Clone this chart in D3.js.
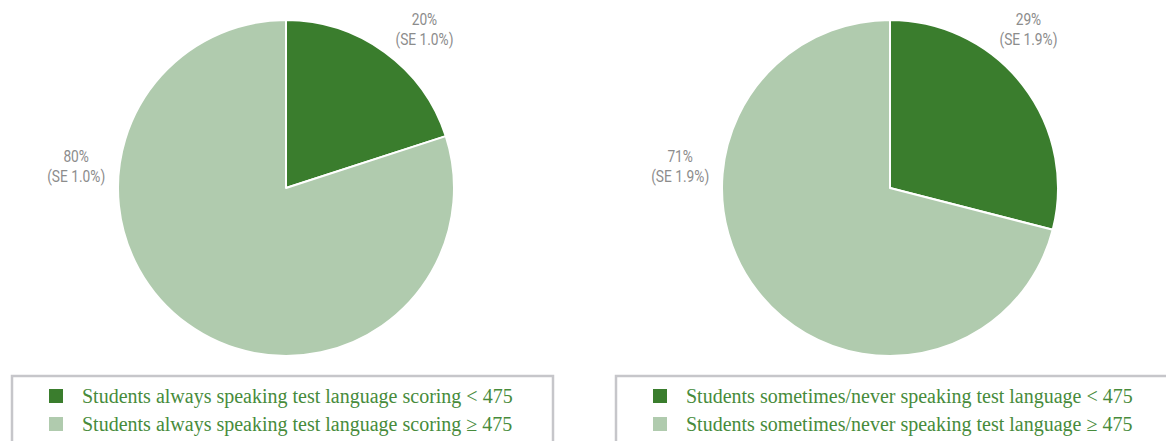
<!DOCTYPE html>
<head>
<meta charset="utf-8">
<script src="https://d3js.org/d3.v7.min.js"></script>
<style>
  body { margin: 0; background: #fff; }
  .lbl { font-family: Roboto, "Open Sans", sans-serif; font-size: 16px; fill: #8c8c8c; }
  .leg { font-family: "Liberation Serif", "DejaVu Serif", serif; font-size: 20px; fill: #478b3b; }
</style>
</head>
<body>
<div id="chart"></div>
<script>
  // data
  var groups = ["always", "sometimes/never"];
  var belowShare = [20, 29];   // scoring < 475
  var aboveShare = [80, 71];   // scoring >= 475
  var belowSE = [1.0, 1.9];
  var aboveSE = [1.0, 1.9];
  var legendBelow = ["Students always speaking test language scoring < 475",
                     "Students sometimes/never speaking test language < 475"];
  var legendAbove = ["Students always speaking test language scoring \u2265 475",
                     "Students sometimes/never speaking test language \u2265 475"];

  var width = 1166, height = 441;
  var colors = ["#3a7d2d", "#b0cbae"];
  var radius = 168;
  var panelX = d3.scaleOrdinal().domain(groups).range([0, 604]);

  var svg = d3.select("#chart").append("svg")
      .attr("width", width)
      .attr("height", height);

  var pie = d3.pie().sort(null).value(function(d) { return d; });
  var arc = d3.arc().innerRadius(0).outerRadius(radius);

  // label directions (degrees clockwise from top) and distance from the centre
  var labelAngle = [41, 276];
  var labelDist = 211;

  groups.forEach(function(g, i) {
    var p = svg.append("g").attr("transform", "translate(" + panelX(g) + ",0)");

    var slices = pie([belowShare[i], aboveShare[i]]);
    var pg = p.append("g").attr("transform", "translate(286,188)");
    pg.selectAll("path")
      .data(slices)
      .enter().append("path")
      .attr("d", arc)
      .attr("fill", function(d, j) { return colors[j]; })
      .attr("stroke", "#fff")
      .attr("stroke-width", 2)
      .attr("stroke-linejoin", "round");

    var labs = [[belowShare[i], belowSE[i]], [aboveShare[i], aboveSE[i]]];
    labs.forEach(function(l, j) {
      var a = labelAngle[j] * Math.PI / 180;
      var x = Math.sin(a) * labelDist, y = -Math.cos(a) * labelDist;
      // narrow the sans font a little, the original uses a condensed face
      var t = pg.append("text").attr("class", "lbl").attr("text-anchor", "middle")
        .attr("transform", "translate(" + x + "," + y + ") scale(0.86,1)");
      t.append("tspan").attr("x", 0).attr("y", -4).text(l[0] + "%");
      t.append("tspan").attr("x", 0).attr("y", 16).text("(SE " + l[1].toFixed(1) + "%)");
    });

    // legend box
    var boxW = i == 0 ? 541 : 600;
    p.append("rect")
      .attr("x", 12).attr("y", 376)
      .attr("width", boxW).attr("height", 90)
      .attr("fill", "none")
      .attr("stroke", "#c6c6ca")
      .attr("stroke-width", 2.5);

    [legendBelow[i], legendAbove[i]].forEach(function(txt, j) {
      p.append("rect")
        .attr("x", 49).attr("y", 389 + j * 28)
        .attr("width", 14).attr("height", 14)
        .attr("fill", colors[j]);
      p.append("text")
        .attr("class", "leg")
        .attr("x", 82).attr("y", 403 + j * 28)
        .text(txt);
    });
  });
</script>
</body>
</html>
